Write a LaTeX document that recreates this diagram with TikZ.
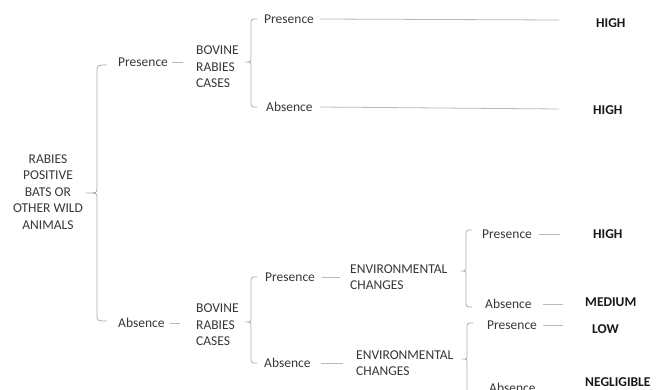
\documentclass[tikz,border=0pt]{standalone}
\usepackage{fontspec}
\setmainfont{Carlito}
\definecolor{txt}{RGB}{55,55,55}
\definecolor{brc}{RGB}{175,175,175}
\definecolor{lin}{RGB}{185,185,185}
\newcommand{\mybrace}[6]{% tipx tipy vx ytop ybot endx
  \draw[bracestyle] (#6,#4) .. controls (#3,#4) .. (#3,#4+7) -- (#3,#2-5)
    .. controls (#3,#2) .. (#1,#2) .. controls (#3,#2) .. (#3,#2+5) -- (#3,#5-7)
    .. controls (#3,#5) .. (#6,#5);}
\begin{document}
\begin{tikzpicture}[x=1pt,y=-1pt,
  lbl/.style={font=\fontsize{13.5}{16.5}\selectfont, text=txt, inner sep=0pt, anchor=west, align=left},
  res/.style={font=\fontsize{13.5}{16.5}\selectfont\bfseries, text=black!90, inner sep=0pt, anchor=west},
  bracestyle/.style={draw=brc, line width=0.8pt},
  conn/.style={draw=lin, line width=0.8pt}]
\useasboundingbox (0,0) rectangle (663,390);
\fill[white] (0,0) rectangle (663,390);
% root
\node[lbl, anchor=center, align=center] (root) at (48,192) {RABIES\\POSITIVE\\BATS OR\\OTHER WILD\\ANIMALS};
% upper branch
\node[lbl] (p1) at (118,62) {Presence};
\node[lbl] (b1) at (196,67) {BOVINE\\RABIES\\CASES};
\node[lbl] (p11) at (264,19) {Presence};
\node[res] (h1) at (596,23) {HIGH};
\node[lbl] (a12) at (266,107) {Absence};
\node[res] (h2) at (593,110) {HIGH};
% lower branch
\node[lbl] (a1) at (118,323) {Absence};
\node[lbl] (b2) at (196,325) {BOVINE\\RABIES\\CASES};
\node[lbl] (p21) at (265,277) {Presence};
\node[lbl] (e1) at (350,277) {ENVIRONMENTAL\\CHANGES};
\node[lbl] (p211) at (482,234) {Presence};
\node[res] (h3) at (593,234) {HIGH};
\node[lbl] (a212) at (485,304) {Absence};
\node[res] (m) at (585,302) {MEDIUM};
\node[lbl] (a22) at (264,363) {Absence};
\node[lbl] (e2) at (356,363) {ENVIRONMENTAL\\CHANGES};
\node[lbl] (p221) at (487,325) {Presence};
\node[res] (l) at (592,329) {LOW};
\node[lbl] (a222) at (489,388) {Absence};
\node[res] (n) at (585,382) {NEGLIGIBLE};
% connectors
\draw[conn] ([xshift=4pt]p1.east) -- ([xshift=-13pt]p1.east -| b1.west);
\draw[conn] ([xshift=6pt]p11.east) -- ([xshift=-37pt,yshift=-1pt]p11.east -| h1.west);
\draw[conn] ([xshift=7pt]a12.east) -- ([xshift=-34pt,yshift=-2pt]a12.east -| h2.west);
\draw[conn] ([xshift=5pt]a1.east) -- ([xshift=-16pt]a1.east -| b2.west);
\draw[conn] ([xshift=7pt]p21.east) -- ([xshift=-10pt]p21.east -| e1.west);
\draw[conn] ([xshift=10pt]a22.east) -- ([xshift=-13pt]a22.east -| e2.west);
\draw[conn] ([xshift=7pt]p211.east) -- ([xshift=-33pt]p211.east -| h3.west);
\draw[conn] ([xshift=11pt]a212.east) -- ([xshift=-22pt]a212.east -| m.west);
\draw[conn] ([xshift=6pt]p221.east) -- ([xshift=-29pt]p221.east -| l.west);
\draw[conn] ([xshift=12pt,yshift=-2pt]a222.east) -- ([xshift=-20pt,yshift=-2pt]a222.east -| n.west);
% braces
\mybrace{86}{193}{97}{65}{321}{107}
\mybrace{245}{62}{251}{19}{107}{257}
\mybrace{245}{322}{251}{277}{363}{257}
\mybrace{461}{271}{466}{230}{307}{472}
\mybrace{462}{359}{467}{323}{410}{473}
\end{tikzpicture}
\end{document}
